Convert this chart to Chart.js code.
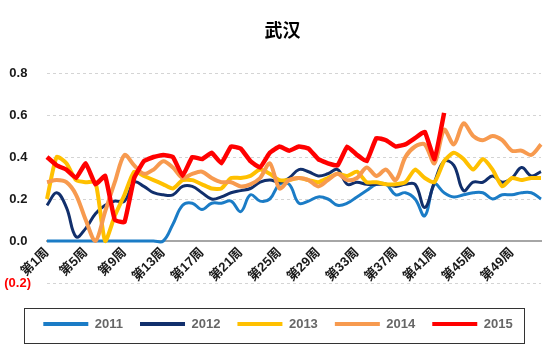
<!DOCTYPE html>
<html>
<head>
<meta charset="utf-8">
<script src="https://cdn.jsdelivr.net/npm/chart.js@4.4.1/dist/chart.umd.min.js"></script>
<style>
    html, body { margin: 0; padding: 0; background: #fff; }
    #box { width: 544px; height: 354px; }
</style>
</head>
<body>
<div id="box"><canvas id="wuhanChart"></canvas></div>
<script>
const weeks = ["第1周", "第2周", "第3周", "第4周", "第5周", "第6周", "第7周", "第8周", "第9周", "第10周",
    "第11周", "第12周", "第13周", "第14周", "第15周", "第16周", "第17周", "第18周", "第19周", "第20周",
    "第21周", "第22周", "第23周", "第24周", "第25周", "第26周", "第27周", "第28周", "第29周", "第30周",
    "第31周", "第32周", "第33周", "第34周", "第35周", "第36周", "第37周", "第38周", "第39周", "第40周",
    "第41周", "第42周", "第43周", "第44周", "第45周", "第46周", "第47周", "第48周", "第49周", "第50周",
    "第51周", "第52周"];
const years = ["2011", "2012", "2013", "2014", "2015"];
const y2011 = [0, 0, 0, 0, 0, 0, 0, 0, 0, 0, 0, 0, 0, 0.08, 0.17, 0.18, 0.15, 0.18, 0.18, 0.19,
    0.14, 0.22, 0.19, 0.2, 0.27, 0.27, 0.18, 0.19, 0.21, 0.2, 0.17, 0.18, 0.21, 0.24, 0.27, 0.27,
    0.22, 0.23, 0.2, 0.12, 0.27, 0.23, 0.21, 0.22, 0.23, 0.23, 0.2, 0.22, 0.22, 0.23, 0.23, 0.2];
const y2012 = [0.17, 0.23, 0.16, 0.02, 0.06, 0.13, 0.17, 0.19, 0.19, 0.28, 0.26, 0.23, 0.22, 0.22,
    0.26, 0.26, 0.23, 0.2, 0.21, 0.23, 0.24, 0.25, 0.28, 0.29, 0.28, 0.3, 0.34, 0.33, 0.31, 0.32,
    0.34, 0.27, 0.28, 0.27, 0.27, 0.27, 0.26, 0.27, 0.27, 0.16, 0.28, 0.38, 0.36, 0.24, 0.28, 0.28,
    0.31, 0.28, 0.3, 0.35, 0.31, 0.33];
const y2013 = [0.2, 0.4, 0.37, 0.29, 0.28, 0.28, 0.0, 0.12, 0.22, 0.33, 0.31, 0.29, 0.27, 0.25,
    0.29, 0.29, 0.27, 0.25, 0.25, 0.3, 0.3, 0.31, 0.34, 0.32, 0.29, 0.29, 0.3, 0.29, 0.28, 0.3,
    0.32, 0.31, 0.33, 0.28, 0.28, 0.27, 0.27, 0.28, 0.34, 0.3, 0.28, 0.38, 0.42, 0.39, 0.34, 0.39,
    0.34, 0.26, 0.3, 0.29, 0.3, 0.3];
const y2014 = [0.28, 0.29, 0.28, 0.22, 0.1, 0.0, 0.14, 0.28, 0.41, 0.36, 0.32, 0.34, 0.38, 0.35,
    0.3, 0.32, 0.33, 0.3, 0.28, 0.28, 0.26, 0.27, 0.3, 0.37, 0.25, 0.29, 0.3, 0.29, 0.26, 0.29,
    0.32, 0.29, 0.3, 0.35, 0.31, 0.34, 0.29, 0.4, 0.45, 0.46, 0.37, 0.53, 0.46, 0.56, 0.5, 0.48,
    0.5, 0.48, 0.43, 0.43, 0.41, 0.46];
const y2015 = [0.4, 0.36, 0.34, 0.3, 0.37, 0.27, 0.31, 0.1, 0.09, 0.3, 0.38, 0.4, 0.41, 0.4,
    0.31, 0.4, 0.39, 0.42, 0.37, 0.45, 0.44, 0.38, 0.35, 0.42, 0.45, 0.43, 0.45, 0.44, 0.39, 0.37,
    0.36, 0.45, 0.41, 0.38, 0.49, 0.48, 0.45, 0.46, 0.49, 0.52, 0.39, 0.61];

const seriesColors = ["#1b7cc6", "#112f6c", "#ffc000", "#f79a4f", "#ff0000"];
const lineWidths = [3, 3, 4, 4, 4.5];
const tensions = [0.4, 0.4, 0.2, 0.3, 0.1];

const textFont = "'Liberation Sans', 'Noto Sans CJK SC', sans-serif";

// title and legend sit a little right of centre; thin frame round the legend
const legendFrame = {
    id: "legendFrame",
    afterLayout(chart) {
        chart.legend.left = 15;
        chart.titleBlock.left = 24;
    },
    afterDraw(chart) {
        const boxes = chart.legend.legendHitBoxes;
        if (!boxes || !boxes.length) return;
        const first = boxes[0];
        const last = boxes[boxes.length - 1];
        const mid = first.top + first.height / 2;
        const ctx = chart.ctx;
        ctx.save();
        ctx.strokeStyle = "#333";
        ctx.lineWidth = 1;
        ctx.strokeRect(Math.round(first.left - 19) + 0.5, Math.round(mid - 16) + 0.5,
            Math.round(last.left + last.width + 12 - first.left + 19), 35);
        ctx.restore();
    }
};

function buildDatasets() {
    const values = [y2011, y2012, y2013, y2014, y2015];
    return years.map((year, i) => ({
        label: year,
        data: values[i],
        borderColor: seriesColors[i],
        backgroundColor: seriesColors[i],
        borderWidth: lineWidths[i],
        tension: tensions[i],
        pointRadius: 0,
        pointHoverRadius: 0,
        fill: false,
        order: years.length - i
    }));
}

function formatTick(value) {
    if (value < 0) return "(" + Math.abs(value).toFixed(1) + ")";
    return value.toFixed(1) + " ";
}

new Chart(document.getElementById("wuhanChart"), {
    type: "line",
    data: {
        labels: weeks,
        datasets: buildDatasets()
    },
    options: {
        responsive: true,
        maintainAspectRatio: false,
        animation: false,
        layout: { padding: { left: 0, right: 3, top: 0, bottom: 13.5 } },
        plugins: {
            title: {
                display: true,
                text: "武汉",
                color: "#000",
                font: { family: "'Noto Sans CJK SC', sans-serif", size: 18, weight: "bold" },
                padding: { top: 19, bottom: 32.4 }
            },
            legend: {
                position: "bottom",
                title: { display: true, text: "", font: { size: 1 }, padding: { top: 16.3, bottom: 0 } },
                labels: {
                    boxWidth: 45,
                    boxHeight: 4,
                    padding: 17,
                    color: "#1a1a1a",
                    font: { family: textFont, size: 13, weight: "bold" },
                    generateLabels: chart => chart.data.datasets.map((ds, i) => ({
                        text: ds.label,
                        fillStyle: ds.borderColor,
                        strokeStyle: ds.borderColor,
                        lineWidth: 0,
                        hidden: false,
                        datasetIndex: i
                    }))
                }
            },
            tooltip: { enabled: false }
        },
        scales: {
            x: {
                type: "category",
                position: { y: 0 },
                grid: { display: false, drawTicks: false },
                border: { display: true, color: "#a6a6a6", width: 2 },
                ticks: {
                    autoSkip: false,
                    minRotation: 45,
                    maxRotation: 45,
                    padding: 4,
                    color: "#1a1a1a",
                    font: { family: textFont, size: 13, weight: "bold" },
                    callback: (value, index) => index % 4 === 0 ? weeks[index] : ""
                },
                afterFit: scale => {
                    scale.paddingLeft = 0;
                    scale.paddingRight = 0;
                }
            },
            y: {
                min: -0.2,
                max: 0.8,
                grid: {
                    drawTicks: false,
                    lineWidth: 1,
                    color: ctx => ctx.tick && ctx.tick.value === 0 ? "rgba(0,0,0,0)" : "#d4d4d4"
                },
                border: { display: false, dash: [3, 3] },
                ticks: {
                    stepSize: 0.2,
                    padding: 16,
                    color: ctx => ctx.tick && ctx.tick.value < 0 ? "#ff0000" : "#1a1a1a",
                    font: { family: textFont, size: 13, weight: "bold" },
                    callback: value => formatTick(value)
                },
                afterFit: scale => {
                    scale.width = 47;
                }
            }
        }
    },
    plugins: [legendFrame]
});
</script>
</body>
</html>
